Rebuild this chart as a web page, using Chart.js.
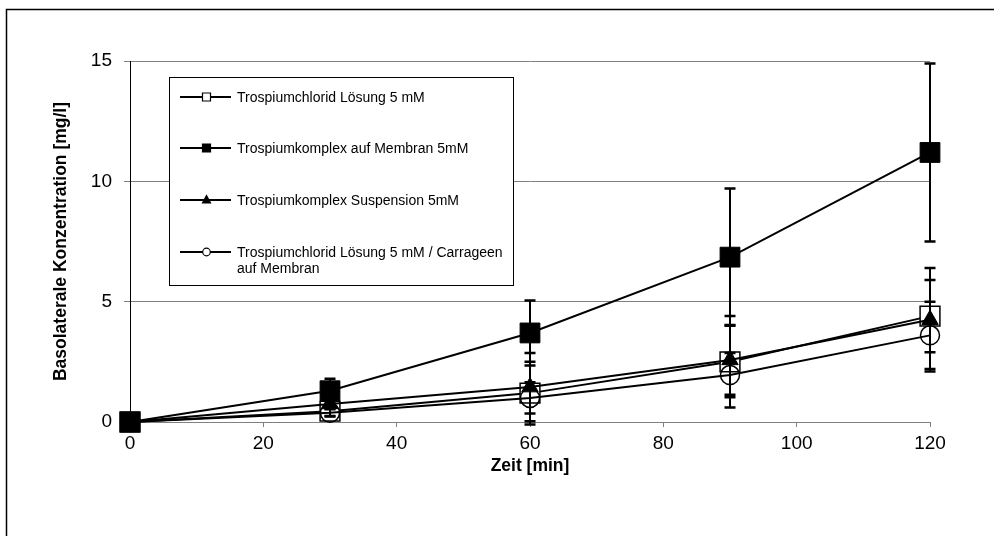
<!DOCTYPE html>
<html>
<head>
<meta charset="utf-8">
<script src="https://cdn.jsdelivr.net/npm/chart.js@4.4.0/dist/chart.umd.min.js"></script>
<style>
  html, body { margin: 0; padding: 0; background: #fff; }
  canvas { display: block; }
</style>
</head>
<body>
<canvas id="chart" width="994" height="536"></canvas>
<script>
// Zeitpunkte [min]
const times = [0, 30, 60, 90, 120];

const seriesLabels = [
  ['Trospiumchlorid Lösung 5 mM'],
  ['Trospiumkomplex auf Membran 5mM'],
  ['Trospiumkomplex Suspension 5mM'],
  ['Trospiumchlorid Lösung 5 mM / Carrageen', 'auf Membran']
];

// Mittelwerte [mg/l]
const loesung      = [0, 0.45, 1.2, 2.5, 4.4];
const membran      = [0, 1.3, 3.7, 6.85, 11.2];
const suspension   = [0, 0.75, 1.45, 2.58, 4.25];
const carrageen    = [0, 0.38, 1.0, 1.95, 3.6];

// Standardabweichungen
const loesungSd    = [0, 0.2, 1.3, 1.9, 1.5];
const membranSd    = [0, 0.5, 1.35, 2.85, 3.7];
const suspensionSd = [0, 0.2, 1.42, 1.45, 2.15];
const carrageenSd  = [0, 0.15, 0.65, 0.92, 1.4];

const yTicks = [0, 5, 10, 15];
const xTicks = [0, 20, 40, 60, 80, 100, 120];

const FONT = "Arial, 'Liberation Sans', sans-serif";

const toPoints = vals => times.map((t, i) => ({ x: t, y: vals[i] }));

const errors = [loesungSd, membranSd, suspensionSd, carrageenSd];

// white page with the left/top frame line
const framePlugin = {
  id: 'frame',
  beforeDraw(chart) {
    const c = chart.ctx;
    c.save();
    c.fillStyle = '#fff';
    c.fillRect(0, 0, chart.width, chart.height);
    c.strokeStyle = '#000';
    c.lineWidth = 1.5;
    c.beginPath();
    c.moveTo(6.5, chart.height);
    c.lineTo(6.5, 9.5);
    c.lineTo(chart.width, 9.5);
    c.stroke();
    c.restore();
  }
};

// vertical error bars with caps
const errorBarPlugin = {
  id: 'errorBars',
  afterDatasetsDraw(chart) {
    const c = chart.ctx;
    const xs = chart.scales.x, ys = chart.scales.y;
    c.save();
    c.strokeStyle = '#000';
    chart.data.datasets.forEach((ds, i) => {
      const sd = errors[i];
      ds.data.forEach((p, j) => {
        if (!sd[j]) return;
        const x = xs.getPixelForValue(p.x);
        const yt = ys.getPixelForValue(p.y + sd[j]);
        const yb = ys.getPixelForValue(p.y - sd[j]);
        c.lineWidth = 2;
        c.beginPath();
        c.moveTo(x, yt);
        c.lineTo(x, yb);
        c.stroke();
        c.lineWidth = 2.5;
        c.beginPath();
        c.moveTo(x - 5.5, yt); c.lineTo(x + 5.5, yt);
        c.moveTo(x - 5.5, yb); c.lineTo(x + 5.5, yb);
        c.stroke();
      });
    });
    c.restore();
  }
};

// legend box like the original
const legendPlugin = {
  id: 'boxLegend',
  afterDraw(chart) {
    const c = chart.ctx;
    const rowsY = [97, 148, 200, 252];
    c.save();
    c.fillStyle = '#fff';
    c.fillRect(169.5, 77.5, 344, 208);
    c.strokeStyle = '#000';
    c.lineWidth = 1;
    c.strokeRect(169.5, 77.5, 344, 208);
    c.font = '14px ' + FONT;
    c.textBaseline = 'middle';
    chart.data.datasets.forEach((ds, i) => {
      const y = rowsY[i];
      c.strokeStyle = '#000';
      c.lineWidth = 2;
      c.beginPath();
      c.moveTo(180, y);
      c.lineTo(231, y);
      c.stroke();
      c.lineWidth = 1.2;
      c.beginPath();
      if (ds.pointStyle === 'rect') {
        c.rect(202.5, y - 4, 8, 8);
      } else if (ds.pointStyle === 'triangle') {
        c.moveTo(206.5, y - 4.5);
        c.lineTo(210.5, y + 3);
        c.lineTo(202.5, y + 3);
        c.closePath();
      } else {
        c.arc(206.5, y, 3.8, 0, Math.PI * 2);
      }
      c.fillStyle = ds.pointStyle === 'circle' ? '#fff' : ds.pointBackgroundColor;
      c.fill();
      c.stroke();
      c.fillStyle = '#000';
      seriesLabels[i].forEach((line, k) => c.fillText(line, 237, y + 1 + k * 16));
    });
    c.restore();
  }
};

const ctx = document.getElementById('chart').getContext('2d');

new Chart(ctx, {
  type: 'line',
  data: {
    datasets: [
      {
        label: seriesLabels[0].join(' '),
        data: toPoints(loesung),
        borderColor: '#000', borderWidth: 2,
        pointStyle: 'rect', pointRadius: 14,
        pointBackgroundColor: '#fff', pointBorderColor: '#000', pointBorderWidth: 1.5,
        clip: false, order: 3
      },
      {
        label: seriesLabels[1].join(' '),
        data: toPoints(membran),
        borderColor: '#000', borderWidth: 2,
        pointStyle: 'rect', pointRadius: 14,
        pointBackgroundColor: '#000', pointBorderColor: '#000', pointBorderWidth: 1,
        clip: false, order: 0
      },
      {
        label: seriesLabels[2].join(' '),
        data: toPoints(suspension),
        borderColor: '#000', borderWidth: 2,
        pointStyle: 'triangle', pointRadius: 9.5,
        pointBackgroundColor: '#000', pointBorderColor: '#000', pointBorderWidth: 1,
        clip: false, order: 1
      },
      {
        label: seriesLabels[3].join(' '),
        data: toPoints(carrageen),
        borderColor: '#000', borderWidth: 2,
        pointStyle: 'circle', pointRadius: 9.5,
        pointBackgroundColor: 'rgba(255,255,255,0)', pointBorderColor: '#000', pointBorderWidth: 1.5,
        clip: false, order: 2
      }
    ]
  },
  options: {
    responsive: false,
    animation: false,
    layout: { padding: { top: 61, right: 64, left: 0, bottom: 0 } },
    plugins: {
      legend: { display: false },
      tooltip: { enabled: false }
    },
    elements: { line: { tension: 0 } },
    scales: {
      x: {
        type: 'linear',
        min: 0, max: 120,
        afterBuildTicks: s => { s.ticks = xTicks.map(v => ({ value: v })); },
        afterFit: s => { s.height = 114; },
        ticks: { color: '#000', font: { family: FONT, size: 19 }, padding: 5, maxRotation: 0 },
        grid: { drawOnChartArea: false, drawTicks: true, tickLength: 5, color: '#808080', lineWidth: 1 },
        border: { color: '#808080', width: 1 },
        title: {
          display: true, text: 'Zeit [min]', color: '#000',
          font: { family: FONT, size: 17.5, weight: 'bold' },
          padding: { top: 0, bottom: 59 }
        }
      },
      y: {
        min: 0, max: 15,
        afterBuildTicks: s => { s.ticks = yTicks.map(v => ({ value: v })); },
        afterFit: s => { s.width = 130; },
        ticks: { color: '#000', font: { family: FONT, size: 19 }, padding: 12 },
        grid: { color: '#808080', lineWidth: 1, tickLength: 6 },
        border: { color: '#000', width: 1 },
        title: {
          display: true, text: 'Basolaterale Konzentration [mg/l]', color: '#000',
          font: { family: FONT, size: 17.5, weight: 'bold' },
          padding: { top: 51, bottom: 0 }
        }
      }
    }
  },
  plugins: [framePlugin, errorBarPlugin, legendPlugin]
});
</script>
</body>
</html>
